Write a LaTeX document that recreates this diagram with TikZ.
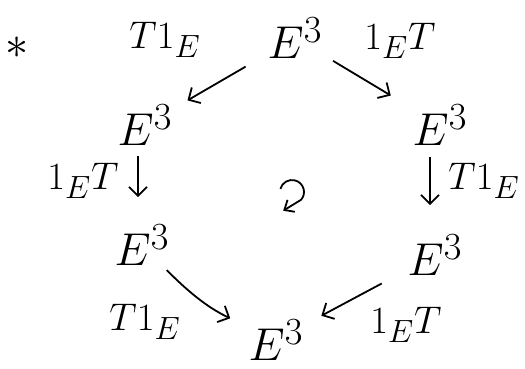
\documentclass[tikz,border=0pt]{standalone}
\usepackage{graphicx}
\usetikzlibrary{arrows.meta,calc}

\newcommand{\obj}[1]{\scalebox{1.85}{$#1$}}
\newcommand{\lab}[1]{\scalebox{1.55}{$#1$}}

\begin{document}
\begin{tikzpicture}[x=1pt, y=-1pt,
      obj/.style={font=\Huge, inner sep=2pt},
      lab/.style={font=\Huge, inner sep=0pt},
      arr/.style={-{Straight Barb[length=9pt,width=18pt]}, line width=1.8pt}
    ]
    \useasboundingbox (0,0) rectangle (525,369);

    \node[lab] (star) at (17,48) {\scalebox{1.2}{\lab{*}}};
    \node[obj] (top) at (295,38) {\obj{E^3}};
    \node[obj] (l1) at (145,125) {\obj{E^3}};
    \node[obj] (r1) at (440,125) {\obj{E^3}};
    \node[obj] (l2) at (142,245) {\obj{E^3}};
    \node[obj] (r2) at (435,255) {\obj{E^3}};
    \node[obj] (bot) at (276,340) {\obj{E^3}};
    \coordinate (ctr) at (292,192);

    \node[lab] (tl) at (165,40) {\lab{T1_E}};
    \node[lab] (tr) at (400,41) {\lab{1_ET}};
    \node[lab] (ml) at (83,181) {\lab{1_ET}};
    \node[lab] (mr) at (484,181) {\lab{T1_E}};
    \node[lab] (bl) at (145,322) {\lab{T1_E}};
    \node[lab] (br) at (406,325) {\lab{1_ET}};

    \draw[arr, shorten <=23pt, shorten >=15pt] (top) -- (l1);
    \draw[arr, shorten <=10pt, shorten >=23pt] (top) -- (r1);
    \draw[arr, shorten <=8pt, shorten >=25pt] ([xshift=-7pt]l1.south) -- ([xshift=-4pt]l2.north);
    \draw[arr, shorten <=9pt, shorten >=27pt] ([xshift=-10pt]r1.south) -- ([xshift=-5pt]r2.north);
    \draw[arr, shorten <=3pt, shorten >=18pt] (l2) to[bend right=10] (bot);
    \draw[arr, shorten <=27pt, shorten >=18pt] (r2) -- (bot);
    \draw[-{Straight Barb[length=8pt,width=14pt]}, line width=1.8pt]
      ($(ctr)+(195:12)$) arc[start angle=195, end angle=400, radius=12] -- ++(-18,11);
  \end{tikzpicture}
\end{document}
